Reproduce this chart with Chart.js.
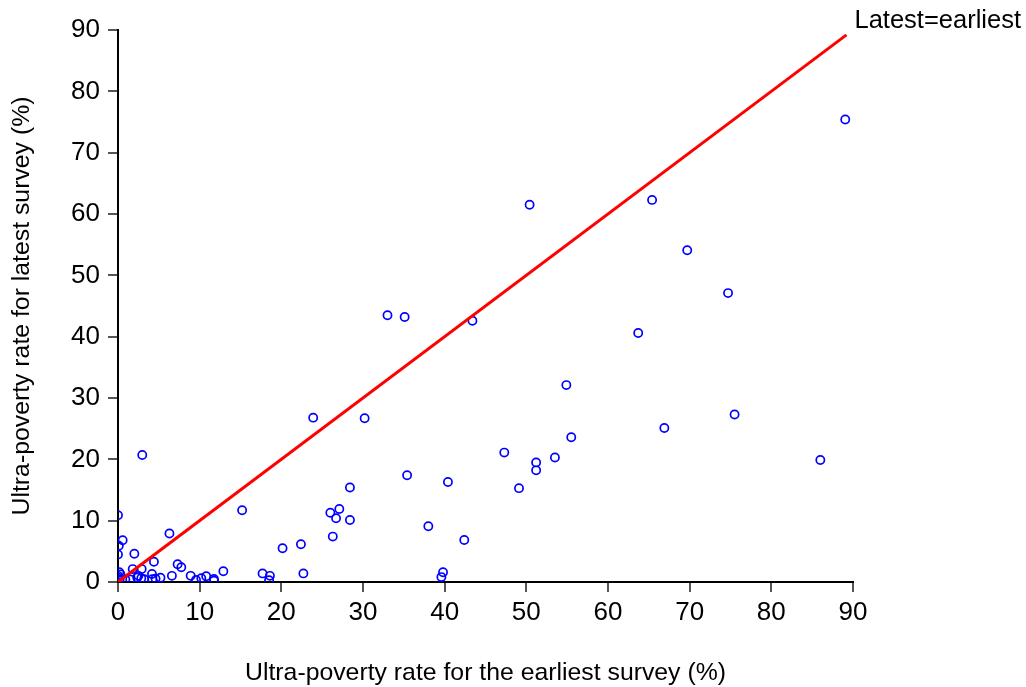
<!DOCTYPE html>
<html>
<head>
<meta charset="utf-8">
<script src="https://cdn.jsdelivr.net/npm/chart.js@4/dist/chart.umd.min.js"></script>
<style>
  html, body { margin: 0; padding: 0; background: #fff; }
  #wrap { width: 1026px; height: 687px; }
</style>
</head>
<body>
<div id="wrap"><canvas id="chart" width="1026" height="687"></canvas></div>
<script>
// ultra-poverty rate (%), earliest survey vs latest survey, one entry per country
const earliest = [89.05, 65.4, 50.4, 69.7, 74.7, 33.0, 35.1, 43.4, 63.7, 54.9,
  23.9, 30.2, 75.5, 66.9, 55.5, 47.3, 53.5, 51.2, 51.2, 86.0,
  2.97, 35.4, 40.4, 49.1, 28.4, 15.2, 27.1, 26.0, 26.7, 28.4,
  0, 38.0, 6.3, 26.3, 42.4, 0.57, 22.4, 0.1, 20.15, 0,
  2.0, 4.4, 7.3, 7.75, 1.8, 2.9, 12.9, 0.16, 0.3, 4.16,
  17.7, 22.7, 39.8, 39.6, 18.6, 18.5, 6.6, 8.9, 10.8, 10.2,
  9.55, 11.75, 11.75, 5.2, 4.6, 4.2, 2.5, 2.85, 2.35, 3.2,
  1.5, 0.9, 0, 0, 0.2];
const latest = [75.4, 62.3, 61.5, 54.1, 47.1, 43.5, 43.2, 42.6, 40.6, 32.1,
  26.8, 26.7, 27.3, 25.1, 23.6, 21.1, 20.3, 19.5, 18.2, 19.9,
  20.7, 17.4, 16.3, 15.3, 15.4, 11.7, 11.9, 11.3, 10.4, 10.1,
  10.9, 9.1, 7.9, 7.4, 6.85, 6.8, 6.15, 5.9, 5.5, 4.5,
  4.6, 3.3, 2.9, 2.4, 2.1, 2.1, 1.75, 1.6, 1.25, 1.3,
  1.4, 1.4, 1.6, 0.8, 1.0, 0.3, 1.0, 1.0, 0.93, 0.6,
  0.33, 0.5, 0.2, 0.7, 0.55, 0.45, 1.0, 0.6, 0.75, 0.45,
  0.4, 0.4, 1.0, 0.7, 0.4];

// equality line
const lineEnd = 89.2;
const lineLabel = "Latest=earliest";
const axisTicks = [0, 10, 20, 30, 40, 50, 60, 70, 80, 90];

const xTitle = "Ultra-poverty rate for the earliest survey (%)";
const yTitle = "Ultra-poverty rate for latest survey (%)";

const fontFamily = "'Liberation Sans', Arial, sans-serif";

const points = earliest.map((v, i) => ({ x: v, y: latest[i] }));

const lineLabelPlugin = {
  id: "lineLabel",
  afterDatasetsDraw(chart) {
    const { ctx, scales } = chart;
    const px = scales.x.getPixelForValue(lineEnd);
    const py = scales.y.getPixelForValue(lineEnd);
    ctx.save();
    ctx.font = "25.5px " + fontFamily;
    ctx.fillStyle = "#000";
    ctx.textAlign = "left";
    ctx.textBaseline = "middle";
    ctx.fillText(lineLabel, px + 8, py - 14);
    ctx.restore();
  }
};

function axisOptions(title, isX) {
  return {
    type: "linear",
    min: 0,
    max: 90,
    afterBuildTicks: (scale) => { scale.ticks = axisTicks.map(v => ({ value: v })); },
    afterFit: (scale) => {
      if (isX) scale.height = 105;
      else scale.width = 118;
    },
    grid: {
      drawOnChartArea: false,
      drawTicks: true,
      tickLength: 10,
      color: "#555",
      lineWidth: 2
    },
    border: { display: true, color: "#000", width: 2 },
    ticks: {
      color: "#000",
      padding: isX ? 5 : 8,
      font: { family: fontFamily, size: 26 }
    },
    title: {
      display: true,
      text: title,
      color: "#000",
      font: { family: fontFamily, size: 24.8, lineHeight: 1.1 },
      padding: isX ? { top: 0, bottom: 0 } : { top: 9, bottom: 0 }
    }
  };
}

new Chart(document.getElementById("chart"), {
  type: "scatter",
  data: {
    datasets: [
      {
        label: "countries",
        data: points,
        pointStyle: "circle",
        pointRadius: 4.1,
        pointBorderWidth: 1.7,
        pointBorderColor: "#0000ff",
        pointBackgroundColor: "rgba(0,0,0,0)",
        order: 2
      },
      {
        type: "line",
        label: lineLabel,
        data: [{ x: 0, y: 0 }, { x: lineEnd, y: lineEnd }],
        borderColor: "#ff0000",
        borderWidth: 3,
        pointRadius: 0,
        fill: false,
        order: 1
      }
    ]
  },
  options: {
    responsive: false,
    animation: false,
    devicePixelRatio: 1,
    layout: { padding: { left: 0, right: 173, top: 30, bottom: 0 } },
    plugins: {
      legend: { display: false },
      tooltip: { enabled: false }
    },
    scales: {
      x: axisOptions(xTitle, true),
      y: axisOptions(yTitle, false)
    }
  },
  plugins: [lineLabelPlugin]
});
</script>
</body>
</html>
